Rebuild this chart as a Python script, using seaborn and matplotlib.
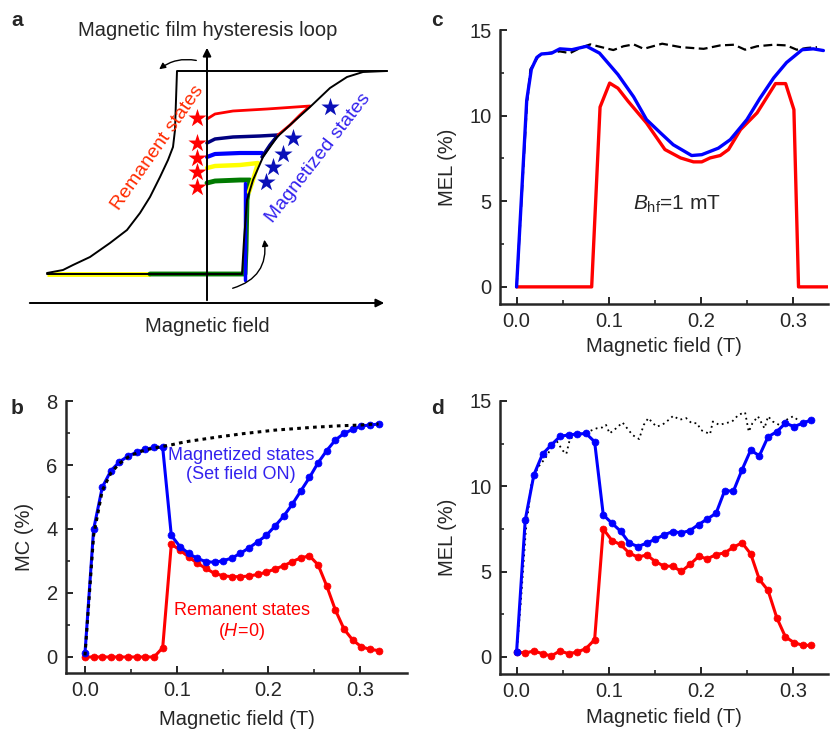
import numpy as np
import matplotlib
matplotlib.use("Agg")
import matplotlib.pyplot as plt
import seaborn as sns

sns.set_style("ticks")
plt.rcParams['font.family'] = ['Liberation Sans', 'DejaVu Sans']
plt.rcParams['mathtext.fontset'] = 'custom'
plt.rcParams['mathtext.it'] = 'Liberation Sans:italic'
plt.rcParams['mathtext.rm'] = 'Liberation Sans'

# ---------------- Panel b data ----------------
b_field = [0.0, 0.0094, 0.0188, 0.0282, 0.0376, 0.0471, 0.0565, 0.0659, 0.0753, 0.0847,
           0.0941, 0.1035, 0.1129, 0.1224, 0.1318, 0.1412, 0.1506, 0.1600, 0.1694, 0.1788,
           0.1882, 0.1976, 0.2071, 0.2165, 0.2259, 0.2353, 0.2447, 0.2541, 0.2635, 0.2729,
           0.2824, 0.2918, 0.3012, 0.3106, 0.3200]
b_magnetized = [0.12, 3.99, 5.30, 5.82, 6.10, 6.28, 6.40, 6.49, 6.55, 6.55,
                3.80, 3.45, 3.24, 3.08, 2.98, 2.96, 3.01, 3.09, 3.24, 3.41,
                3.60, 3.80, 4.09, 4.40, 4.77, 5.19, 5.61, 6.07, 6.45, 6.78,
                6.99, 7.11, 7.22, 7.25, 7.28]
b_remanent = [0.0, 0.0, 0.0, 0.0, 0.0, 0.0, 0.0, 0.0, 0.0, 0.29,
              3.53, 3.34, 3.13, 2.93, 2.77, 2.61, 2.54, 2.51, 2.51, 2.53,
              2.58, 2.65, 2.75, 2.85, 2.98, 3.10, 3.16, 2.88, 2.22, 1.47,
              0.87, 0.53, 0.32, 0.24, 0.20]
b_saturated = [0.05, 3.80, 5.20, 5.75, 6.05, 6.25, 6.38, 6.47, 6.53, 6.58,
               6.63, 6.69, 6.74, 6.78, 6.82, 6.86, 6.90, 6.93, 6.97, 7.00,
               7.03, 7.06, 7.09, 7.11, 7.13, 7.15, 7.17, 7.19, 7.20, 7.22,
               7.23, 7.24, 7.25, 7.27, 7.28]

# ---------------- Panel c data ----------------
c_blue_x = [0.0, 0.011, 0.016, 0.022, 0.027, 0.038, 0.047, 0.060, 0.076, 0.090, 0.110, 0.127,
            0.141, 0.156, 0.170, 0.190, 0.201, 0.219, 0.232, 0.250, 0.264, 0.279, 0.293,
            0.310, 0.322, 0.333]
c_blue_y = [0.0, 10.9, 12.7, 13.4, 13.6, 13.65, 13.9, 13.85, 14.05, 13.65, 12.4, 11.1,
            9.77, 9.0, 8.3, 7.67, 7.72, 8.1, 8.6, 9.77, 11.0, 12.2, 13.1,
            13.85, 13.9, 13.8]
c_red_x = [0.0, 0.0815, 0.0906, 0.101, 0.110, 0.121, 0.141, 0.161, 0.178, 0.192, 0.201,
           0.210, 0.221, 0.230, 0.243, 0.261, 0.281, 0.292, 0.301, 0.306, 0.339]
c_red_y = [0.0, 0.0, 10.5, 11.9, 11.6, 10.84, 9.57, 8.02, 7.53, 7.3, 7.3,
           7.53, 7.67, 8.02, 9.18, 10.16, 11.87, 11.87, 10.35, 0.0, 0.0]
c_sat_x = [0.0, 0.011, 0.015, 0.024, 0.034, 0.047, 0.058, 0.069, 0.080, 0.092, 0.105, 0.116,
           0.127, 0.138, 0.158, 0.178, 0.203, 0.221, 0.236, 0.248, 0.261, 0.279, 0.293,
           0.304, 0.315, 0.326]
c_sat_y = [0.0, 10.5, 12.7, 13.5, 13.65, 13.75, 13.65, 13.95, 14.16, 14.0, 13.83, 14.05,
           14.16, 13.9, 14.2, 14.0, 13.9, 14.1, 14.14, 13.85, 14.05, 14.14, 14.1,
           13.85, 13.95, 14.0]

# ---------------- Panel d data ----------------
d_field = b_field
d_magnetized = [0.29, 8.03, 10.68, 11.89, 12.42, 12.92, 13.02, 13.06, 13.10, 12.61,
                8.32, 7.84, 7.37, 6.67, 6.47, 6.67, 6.90, 7.15, 7.35, 7.27,
                7.41, 7.76, 8.09, 8.42, 9.75, 9.71, 10.97, 12.12, 11.79, 12.90,
                13.20, 13.70, 13.50, 13.70, 13.90]
d_remanent = [0.29, 0.23, 0.35, 0.19, 0.06, 0.35, 0.19, 0.29, 0.49, 1.01,
              7.50, 6.82, 6.59, 6.08, 5.85, 5.98, 5.59, 5.32, 5.32, 5.01,
              5.42, 5.89, 5.75, 6.00, 6.10, 6.43, 6.69, 6.04, 4.54, 3.90,
              2.30, 1.17, 0.84, 0.68, 0.68]
d_sat_x = [0.0, 0.005, 0.010, 0.016, 0.023, 0.029, 0.033, 0.039, 0.043, 0.050, 0.054, 0.058,
           0.062, 0.069, 0.074, 0.080, 0.087, 0.093, 0.097, 0.101, 0.108, 0.115, 0.120,
           0.126, 0.133, 0.138, 0.143, 0.148, 0.152, 0.158, 0.163, 0.170, 0.177, 0.184,
           0.190, 0.196, 0.200, 0.210, 0.213, 0.220, 0.227, 0.234, 0.241, 0.248, 0.252,
           0.256, 0.262, 0.269, 0.273, 0.278, 0.285, 0.293, 0.300, 0.305]
d_sat_y = [0.2, 3.5, 7.4, 10.1, 11.1, 11.5, 11.8, 12.4, 12.7, 12.1, 11.9, 12.8,
           12.9, 13.0, 13.2, 13.25, 13.4, 13.45, 13.6, 13.1, 13.4, 13.74, 13.4,
           13.0, 12.77, 13.6, 14.0, 13.7, 13.5, 13.6, 13.8, 14.13, 13.9, 14.0,
           13.7, 13.7, 13.3, 13.06, 13.8, 13.6, 13.7, 13.8, 14.2, 14.33, 13.2,
           13.7, 14.1, 13.4, 14.1, 13.8, 13.6, 13.9, 14.1, 13.9]

# ---------------- Panel a (schematic, image-like coordinates) ----------------
loop_down_x = [387, 300, 177, 176, 175, 173, 168, 160, 150, 140, 127, 110, 90, 73, 63, 47]
loop_down_y = [71, 71, 71, 100, 130, 147, 160, 177, 197, 213, 230, 243, 257, 265, 270, 273]
loop_up_x = [47, 150, 242, 244, 247, 253, 263, 277, 290, 310, 330, 347, 363, 387]
loop_up_y = [274, 274, 274, 240, 200, 180, 157, 137, 125, 107, 88, 77, 72, 71]
red_x = [207, 215, 233, 267, 310, 300, 290, 278]
red_y = [119, 114, 111, 109, 106, 115, 125, 135]
navy_x = [207, 215, 233, 260, 278, 270, 262]
navy_y = [143, 139, 137, 136, 135, 145, 157]
blue_x = [207, 215, 240, 262]
blue_y = [157, 154, 153, 153]
yellow_x = [207, 215, 240, 258, 253, 249]
yellow_y = [168, 166, 165, 163, 180, 192]
green_x = [207, 215, 240, 250, 247, 246, 245, 150]
green_y = [183, 181, 180, 180, 200, 250, 274, 274]
yellow_low_x = [47, 150]
yellow_low_y = [274, 274]
bluev_x = [245, 245]
bluev_y = [183, 280]
red_star_x = [197, 197, 197, 197, 197]
red_star_y = [118, 143, 158, 172, 187]
blue_star_x = [330, 293, 283, 273, 266]
blue_star_y = [107, 138, 154, 167, 182]

W, H = 830, 733
fig = plt.figure(figsize=(8.3, 7.33), dpi=100)

FS = 14.5


def box(l, r, t, b):
    return [l / W, 1 - b / H, (r - l) / W, (b - t) / H]


RED = '#ff0000'
BLUE = '#0000ff'

# ---- Panel a ----
axa = fig.add_axes([0, 1 - 345 / H, 415 / W, 345 / H])
axa.set_xlim(0, 415)
axa.set_ylim(345, 0)
axa.axis('off')
axa.plot(yellow_low_x, yellow_low_y, color='#ffff00', lw=3.5, solid_capstyle='butt')
axa.plot(green_x, green_y, color='#007a00', lw=3.5)
axa.plot(bluev_x, bluev_y, color=BLUE, lw=2.5)
axa.plot(yellow_x, yellow_y, color='#ffff00', lw=3.2)
axa.plot(blue_x, blue_y, color=BLUE, lw=3.0)
axa.plot(navy_x, navy_y, color='#000080', lw=2.5)
axa.plot(red_x, red_y, color=RED, lw=2.0)
axa.plot(loop_down_x, loop_down_y, color='black', lw=1.4)
axa.plot(loop_up_x, loop_up_y, color='black', lw=1.4)
axa.scatter(red_star_x, red_star_y, marker='*', s=190, color=RED, linewidths=0, zorder=5)
axa.scatter(blue_star_x, blue_star_y, marker='*', s=190, color='#0a10b8', linewidths=0, zorder=5)
axa.annotate('', xy=(387, 303), xytext=(27, 303),
             arrowprops=dict(arrowstyle='-|>', color='black', lw=1.4, mutation_scale=12))
axa.annotate('', xy=(207, 45), xytext=(207, 303),
             arrowprops=dict(arrowstyle='-|>', color='black', lw=1.4, mutation_scale=12))
axa.annotate('', xy=(157, 71), xytext=(199, 61),
             arrowprops=dict(arrowstyle='-|>', color='black', lw=1.0, mutation_scale=9,
                             connectionstyle='arc3,rad=0.25'))
axa.annotate('', xy=(264, 237), xytext=(230, 289),
             arrowprops=dict(arrowstyle='-|>', color='black', lw=1.0, mutation_scale=9,
                             connectionstyle='arc3,rad=0.45'))
axa.text(208, 30, 'Magnetic film hysteresis loop', ha='center', va='center', fontsize=FS)
axa.text(207, 326, 'Magnetic field', ha='center', va='center', fontsize=FS)
axa.text(158, 148, 'Remanent states', color='#ff2a00', rotation=55, ha='center', va='center',
         fontsize=14, rotation_mode='anchor')
axa.text(318, 158, 'Magnetized states', color='#3322ee', rotation=52, ha='center', va='center',
         fontsize=14, rotation_mode='anchor')


def style(ax, ylim, yticks, yminor, ylabel, xpad=6):
    ax.set_ylim(*ylim)
    ax.set_xticks([0.0, 0.1, 0.2, 0.3])
    ax.set_xticklabels(['0.0', '0.1', '0.2', '0.3'])
    ax.set_xticks([0.05, 0.15, 0.25], minor=True)
    ax.set_yticks(yticks)
    ax.set_yticks(yminor, minor=True)
    ax.tick_params(which='major', direction='in', length=5, width=1.4, labelsize=FS, pad=6)
    ax.tick_params(which='minor', direction='in', length=3, width=1.2)
    for s in ['left', 'bottom']:
        ax.spines[s].set_linewidth(1.8)
    sns.despine(ax=ax)
    ax.set_xlabel('Magnetic field (T)', fontsize=FS, labelpad=xpad)
    ax.set_ylabel(ylabel, fontsize=FS, labelpad=9)


# ---- Panel b ----
axb = fig.add_axes(box(66, 407, 401, 673))
sns.lineplot(x=b_field, y=b_remanent, ax=axb, color=RED, lw=2.2, marker='o', markersize=5,
             markeredgecolor=RED, markeredgewidth=0.5)
sns.lineplot(x=b_field, y=b_magnetized, ax=axb, color=BLUE, lw=2.2, marker='o', markersize=5,
             markeredgecolor=BLUE, markeredgewidth=0.5)
sns.lineplot(x=b_field, y=b_saturated, ax=axb, color='black', lw=2.2, dashes=False,
             linestyle=(0, (1.2, 1.4)))
style(axb, (-0.5, 8), [0, 2, 4, 6, 8], [1, 3, 5, 7], 'MC (%)', xpad=7)
axb.set_xlim(-0.0207, 0.351)
axb.text(0.170, 6.0, 'Magnetized states\n(Set field ON)', color='#3322ee', fontsize=13,
         ha='center', va='center', linespacing=1.15)
axb.text(0.171, 1.1, 'Remanent states\n($H$$\\!=\\!$0)', color=RED, fontsize=13,
         ha='center', va='center', linespacing=1.15)

# ---- Panel c ----
axc = fig.add_axes(box(500, 828, 30, 304))
sns.lineplot(x=c_red_x, y=c_red_y, ax=axc, color=RED, lw=2.4, estimator=None, sort=False)
sns.lineplot(x=c_sat_x, y=c_sat_y, ax=axc, color='black', lw=1.6, estimator=None, sort=False,
             linestyle=(0, (4, 2)))
sns.lineplot(x=c_blue_x, y=c_blue_y, ax=axc, color=BLUE, lw=2.4, estimator=None, sort=False)
style(axc, (-1, 15), [0, 5, 10, 15], [2.5, 7.5, 12.5], 'MEL (%)', xpad=4)
axc.set_xlim(-0.018, 0.338)
axc.text(0.174, 4.8, '$B_{\\mathrm{hf}}$=1 mT', fontsize=15, ha='center', va='center')

# ---- Panel d ----
axd = fig.add_axes(box(500, 828, 401, 674))
sns.lineplot(x=d_sat_x, y=d_sat_y, ax=axd, color='black', lw=1.3, estimator=None, sort=False,
             linestyle=(0, (1, 2)))
sns.lineplot(x=d_field, y=d_remanent, ax=axd, color=RED, lw=2.2, marker='o', markersize=5,
             markeredgecolor=RED, markeredgewidth=0.5, estimator=None, sort=False)
sns.lineplot(x=d_field, y=d_magnetized, ax=axd, color=BLUE, lw=2.2, marker='o', markersize=5,
             markeredgecolor=BLUE, markeredgewidth=0.5, estimator=None, sort=False)
style(axd, (-1, 15), [0, 5, 10, 15], [2.5, 7.5, 12.5], 'MEL (%)', xpad=5)
axd.set_xlim(-0.018, 0.338)

# panel letters
for lab, (px, py) in zip('abcd', [(17, 20), (17, 408), (437, 20), (437, 408)]):
    fig.text(px / W, 1 - py / H, lab, fontsize=15, fontweight='bold', ha='center', va='center')

fig.savefig('out.png', dpi=100)
